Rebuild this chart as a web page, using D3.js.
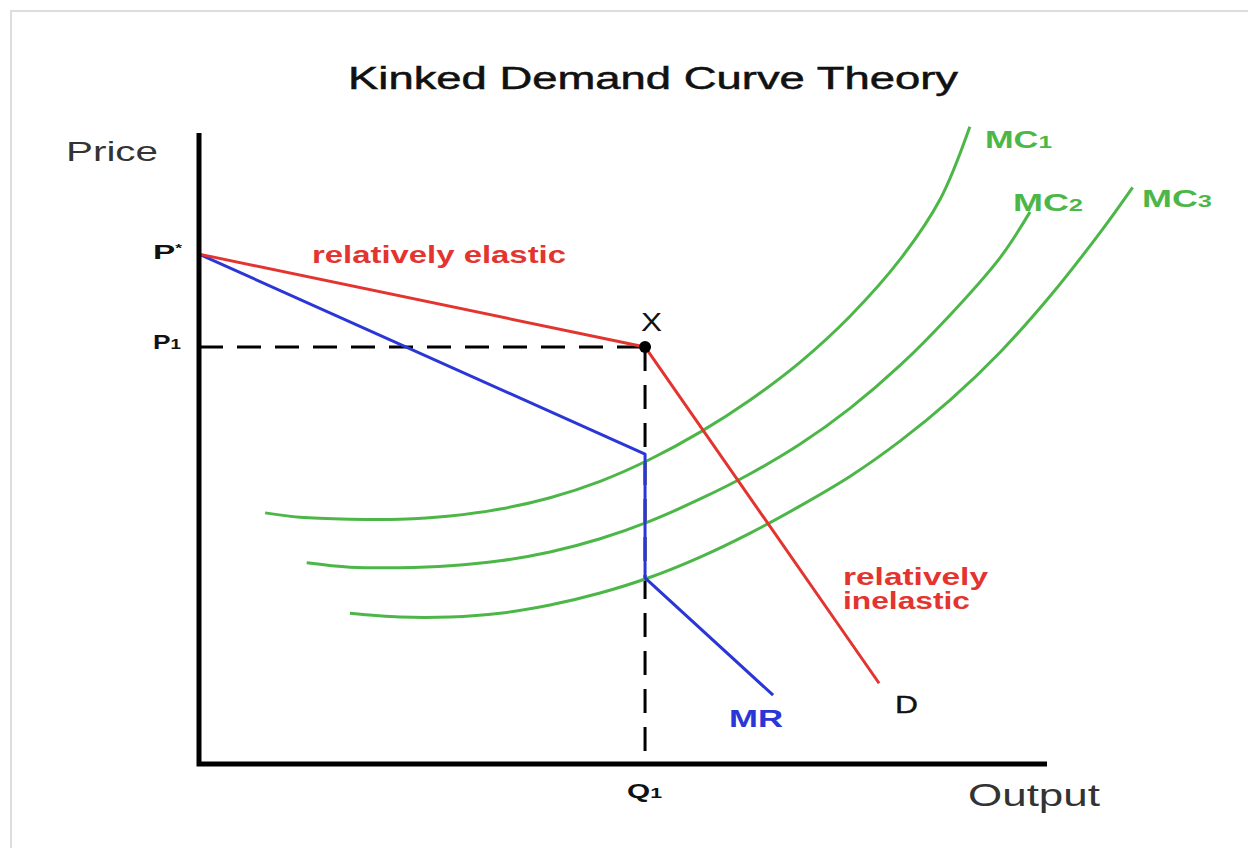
<!DOCTYPE html>
<html>
<head>
<meta charset="utf-8">
<script src="https://cdn.jsdelivr.net/npm/d3@7"></script>
<style>
html,body{margin:0;padding:0;background:#fff;}
svg{display:block;}
</style>
</head>
<body>
<svg id="chart" width="1248" height="848"></svg>
<script>
// ---- Data (chart units: output 0-100, price 0-100) ----
const pStar = 80.8;
const p1 = 66.1;
const q1 = 52.6;
const demandCurve = [[0, pStar], [q1, p1], [80.2, 12.8]];
const mrCurve = [[0, pStar], [q1, 49.1], [q1, 29.5], [67.7, 10.9]];
const mc1 = [[7.8,39.8],[11.9,39.1],[17.8,38.8],[23.7,38.8],[29.6,39.3],[35.5,40.4],[41.4,42.2],[47.3,44.8],[53.2,48.3],[59.1,52.6],[65.0,57.7],[70.9,63.7],[76.8,71.0],[82.7,80.0],[87.4,89.5],[90.9,101.0]];
const mc2 = [[12.7,31.9],[17.8,31.2],[23.7,31.1],[29.6,31.4],[35.5,32.2],[41.4,33.6],[47.3,35.7],[53.2,38.5],[59.1,42.0],[65.0,46.0],[70.9,50.7],[76.8,56.4],[82.7,63.2],[88.6,71.2],[94.5,80.3],[98.0,87.5]];
const mc3 = [[17.8,23.9],[23.7,23.3],[29.6,23.3],[35.5,23.9],[41.4,25.2],[47.3,27.1],[53.2,29.6],[59.1,32.8],[65.0,36.6],[70.9,40.9],[76.8,45.6],[82.7,51.2],[88.6,57.7],[94.5,65.3],[100.4,74.2],[106.3,84.3],[110.1,91.4]];
const mcNames = ["MC1", "MC2", "MC3"];
const priceTicks = ["P*", "P1"];
const outputTicks = ["Q1"];

const svg = d3.select("#chart");
const x = d3.scaleLinear().domain([0, 100]).range([199, 1047]);
const y = d3.scaleLinear().domain([0, 100]).range([764, 133]);

const RED = "#e3342f", BLUE = "#2a36d6", GREEN = "#4cb748";
const FONT = "'Liberation Sans', Arial, sans-serif";

// frame
svg.append("rect").attr("x", 11).attr("y", 11).attr("width", 1400).attr("height", 1000)
  .attr("fill", "none").attr("stroke", "#dcdde1").attr("stroke-width", 2);

const line = d3.line().x(d => x(d[0])).y(d => y(d[1]));
const smooth = d3.line().x(d => x(d[0])).y(d => y(d[1])).curve(d3.curveCatmullRom.alpha(0.5));

// dashed guides
svg.append("path").attr("d", line([[0, p1], [q1, p1]]))
  .attr("fill", "none").attr("stroke", "#000").attr("stroke-width", 3).attr("stroke-dasharray", "24,14");
svg.append("path").attr("d", line([[q1, p1], [q1, 0]]))
  .attr("fill", "none").attr("stroke", "#000").attr("stroke-width", 3).attr("stroke-dasharray", "24,14");

// MC curves
[mc1, mc2, mc3].forEach(c => {
  svg.append("path").attr("d", smooth(c)).attr("fill", "none")
    .attr("stroke", GREEN).attr("stroke-width", 3);
});

// MR and demand
svg.append("path").attr("d", line(mrCurve)).attr("fill", "none")
  .attr("stroke", BLUE).attr("stroke-width", 3).attr("stroke-linejoin", "round");
svg.append("path").attr("d", line(demandCurve)).attr("fill", "none")
  .attr("stroke", RED).attr("stroke-width", 3).attr("stroke-linejoin", "round");

// kink point
svg.append("circle").attr("cx", x(q1)).attr("cy", y(p1)).attr("r", 6).attr("fill", "#000");

// axes
svg.append("path").attr("d", line([[0, 100], [0, 0], [100, 0]]))
  .attr("fill", "none").attr("stroke", "#000").attr("stroke-width", 5).attr("stroke-linejoin", "miter");

// text helper
function label(px, py, parts, size, weight, fill, width) {
  const t = svg.append("text").attr("x", px).attr("y", py)
    .attr("font-family", FONT).attr("font-size", size).attr("font-weight", weight).attr("fill", fill);
  parts.forEach(p => {
    const ts = t.append("tspan").text(p.t);
    if (p.s) ts.attr("font-size", p.s);
    if (p.dy) ts.attr("dy", p.dy);
  });
  if (width) t.attr("textLength", width).attr("lengthAdjust", "spacingAndGlyphs");
  return t;
}

label(348, 89, [{t: "Kinked Demand Curve Theory"}], 31, "normal", "#111", 610)
  .attr("stroke", "#111").attr("stroke-width", 0.5);
label(66, 161, [{t: "Price"}], 28, "normal", "#333", 92);
label(968, 806, [{t: "Output"}], 31, "normal", "#333", 132);

// tick labels
label(153, 259, [{t: priceTicks[0].slice(0,1)}, {t: priceTicks[0].slice(1), s: 11, dy: -7}], 21, "bold", "#111", 29);
label(153, 349, [{t: priceTicks[1].slice(0,1)}, {t: priceTicks[1].slice(1), s: 15}], 21, "bold", "#111", 28);
label(627, 798, [{t: outputTicks[0].slice(0,1)}, {t: outputTicks[0].slice(1), s: 15}], 21, "bold", "#111", 35);

// annotations
label(641, 331, [{t: "X"}], 25, "normal", "#111", 21);
label(312, 263, [{t: "relatively elastic"}], 23, "bold", RED, 254);
label(843, 585, [{t: "relatively"}], 23, "bold", RED, 145);
label(843, 609, [{t: "inelastic"}], 23, "bold", RED, 127);
label(729, 727, [{t: "MR"}], 23, "bold", BLUE, 54);
label(895, 713, [{t: "D"}], 24, "normal", "#111", 23).attr("stroke", "#111").attr("stroke-width", 0.4);

const mcPos = [[985, 148, 67], [1013, 211, 70], [1142, 207, 70]];
mcNames.forEach((n, i) => {
  label(mcPos[i][0], mcPos[i][1], [{t: n.slice(0,2)}, {t: n.slice(2), s: 17}], 24, "bold", GREEN, mcPos[i][2]);
});
</script>
</body>
</html>
